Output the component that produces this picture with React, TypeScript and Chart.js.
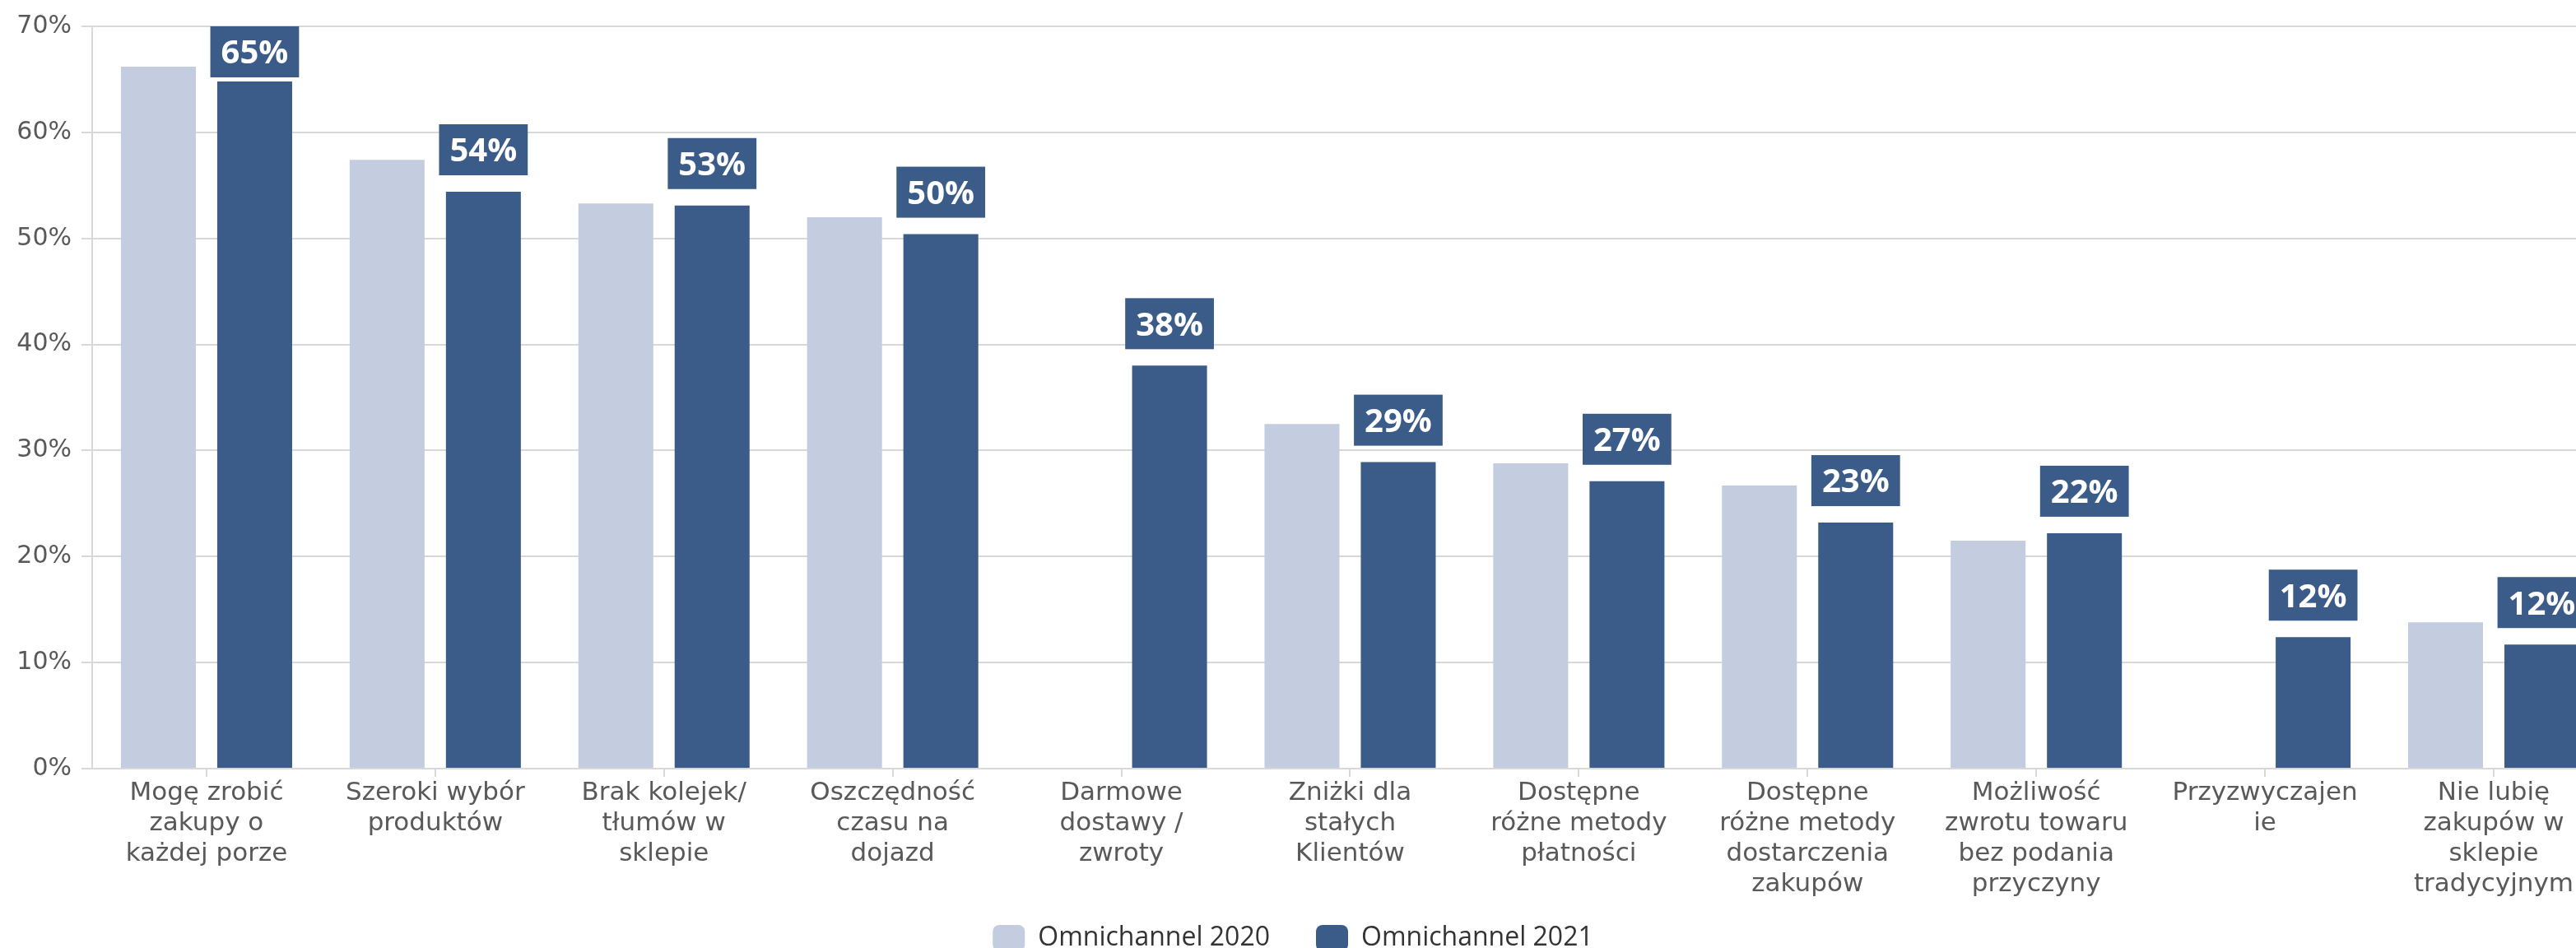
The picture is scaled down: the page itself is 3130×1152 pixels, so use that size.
import React, { useEffect, useRef } from 'react';
import { Chart, registerables } from 'chart.js';

Chart.register(...registerables);

// ---- data ----
const categories: string[][] = [
  ['Mogę zrobić', 'zakupy o', 'każdej porze'],
  ['Szeroki wybór', 'produktów'],
  ['Brak kolejek/', 'tłumów w', 'sklepie'],
  ['Oszczędność', 'czasu na', 'dojazd'],
  ['Darmowe', 'dostawy /', 'zwroty'],
  ['Zniżki dla', 'stałych', 'Klientów'],
  ['Dostępne', 'różne metody', 'płatności'],
  ['Dostępne', 'różne metody', 'dostarczenia', 'zakupów'],
  ['Możliwość', 'zwrotu towaru', 'bez podania', 'przyczyny'],
  ['Przyzwyczajen', 'ie'],
  ['Nie lubię', 'zakupów w', 'sklepie', 'tradycyjnym'],
];

const seriesNames: string[] = ['Omnichannel 2020', 'Omnichannel 2021'];

const omnichannel2020: (number | null)[] = [66.2, 57.4, 53.3, 52.0, null, 32.5, 28.8, 26.7, 21.5, null, 13.8];
const omnichannel2021: number[] = [64.8, 54.4, 53.1, 50.4, 38.0, 28.9, 27.1, 23.2, 22.2, 12.4, 11.7];

const yTicks: number[] = [0, 10, 20, 30, 40, 50, 60, 70];

// ---- style ----
const LIGHT = '#C3CDDF';
const DARK = '#3B5C88';
const GRID = '#D8D8D8';
const LABEL = '#595959';
const CANVAS_W = 3142;
const CANVAS_H = 1166;
const X_MIN = -0.5;
const X_MAX = 10.403;

const valueBoxes = {
  id: 'valueBoxes',
  afterDatasetsDraw(chart: any) {
    const meta = chart.getDatasetMeta(1);
    const ds = chart.data.datasets[1];
    const ctx = chart.ctx;
    const area = chart.chartArea;
    ctx.save();
    ctx.font = 'bold 40px "Open Sans"';
    ctx.textAlign = 'center';
    ctx.textBaseline = 'alphabetic';
    meta.data.forEach((el: any, i: number) => {
      const raw = ds.data[i];
      const v = raw && raw.y;
      if (v == null) return;
      const text = Math.round(v) + '%';
      const w = ctx.measureText(text).width + 26;
      const h = 62;
      let top = el.y - 20 - h;
      if (top < area.top) top = area.top;
      ctx.fillStyle = DARK;
      ctx.fillRect(el.x - w / 2, top, w, h);
      ctx.fillStyle = '#ffffff';
      ctx.fillText(text, el.x, top + h / 2 + 14.3);
    });
    ctx.restore();
  },
};

export default function App() {
  const ref = useRef<HTMLCanvasElement | null>(null);

  useEffect(() => {
    if (!ref.current) return;
    const chart = new Chart(ref.current, {
      type: 'bar',
      data: {
        datasets: [
          {
            label: seriesNames[0],
            data: omnichannel2020.map((v, i) => ({ x: i, y: v })) as any,
            backgroundColor: LIGHT,
            borderWidth: 0,
            categoryPercentage: 0.842,
            barPercentage: 0.778,
          },
          {
            label: seriesNames[1],
            data: omnichannel2021.map((v, i) => ({ x: i, y: v })) as any,
            backgroundColor: DARK,
            borderWidth: 0,
            categoryPercentage: 0.842,
            barPercentage: 0.778,
          },
        ],
      },
      options: {
        responsive: false,
        animation: false,
        devicePixelRatio: 1,
        layout: { padding: { top: 32, left: 0, right: 0, bottom: 0 } },
        plugins: {
          tooltip: { enabled: false },
          legend: {
            position: 'bottom',
            title: {
              display: true,
              text: '',
              font: { size: 10, lineHeight: 1 },
              padding: { top: -36.94, bottom: 0 },
            },
            labels: {
              boxWidth: 39,
              boxHeight: 32,
              useBorderRadius: true,
              borderRadius: 8,
              padding: 56,
              color: '#333333',
              font: { family: '"Open Sans"', size: 32 },
            },
          } as any,
        },
        scales: {
          x: {
            type: 'linear',
            min: X_MIN,
            max: X_MAX,
            offset: false,
            afterBuildTicks: (s: any) => {
              s.ticks = categories.map((_, i) => ({ value: i }));
            },
            grid: {
              display: true,
              drawOnChartArea: false,
              drawTicks: true,
              tickLength: 10,
              color: GRID,
              lineWidth: 2,
              offset: false,
            },
            border: { display: true, color: GRID, width: 2 },
            ticks: {
              autoSkip: false,
              maxRotation: 0,
              minRotation: 0,
              padding: 2,
              color: LABEL,
              font: { family: '"DejaVu Sans"', size: 31, lineHeight: 1.185 },
              callback: (v: any) => categories[v] ?? '',
            },
          } as any,
          y: {
            min: 0,
            max: 70,
            afterBuildTicks: (s: any) => {
              s.ticks = yTicks.map((v) => ({ value: v }));
            },
            afterFit: (s: any) => {
              s.width = 112;
            },
            grid: { color: GRID, lineWidth: 2, tickLength: 13, drawTicks: true },
            border: { display: true, color: GRID, width: 2 },
            ticks: {
              padding: 12,
              color: LABEL,
              font: { family: '"DejaVu Sans"', size: 30 },
              callback: (v: any) => v + '%',
            },
          } as any,
        },
      },
      plugins: [valueBoxes as any],
    });
    return () => chart.destroy();
  }, []);

  return (
    <div
      style={{
        position: 'fixed',
        left: 0,
        top: 0,
        width: 3130,
        height: 1152,
        overflow: 'hidden',
        background: '#ffffff',
      }}
    >
      <canvas ref={ref} width={CANVAS_W} height={CANVAS_H} style={{ display: 'block', width: CANVAS_W, height: CANVAS_H }} />
    </div>
  );
}
